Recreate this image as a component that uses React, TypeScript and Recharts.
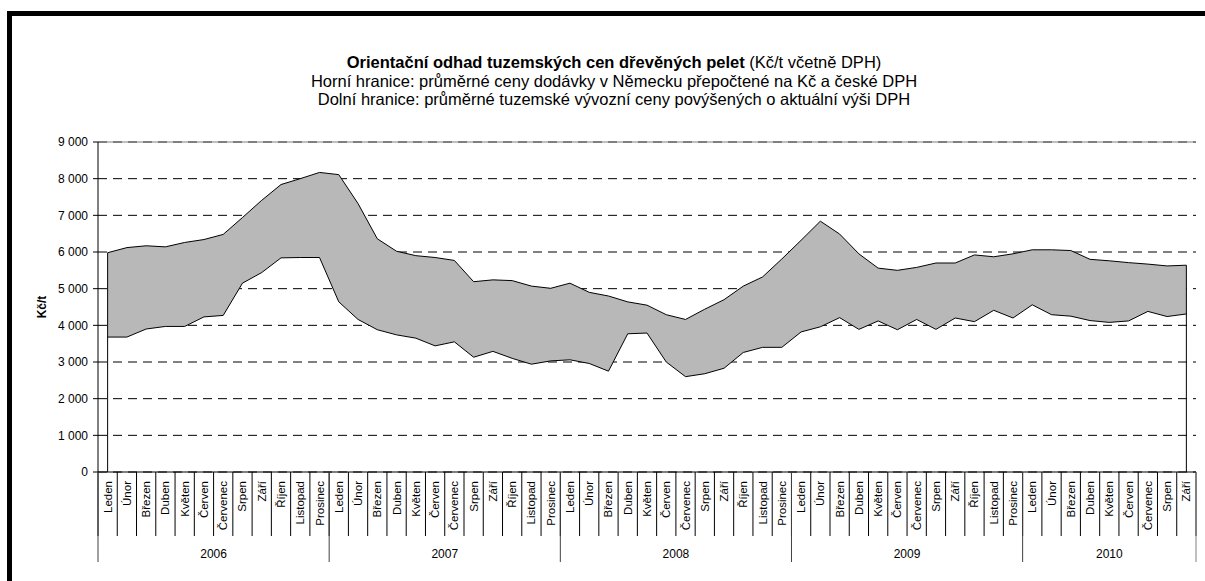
import React from "react";
import {
  ComposedChart,
  Area,
  XAxis,
  YAxis,
  CartesianGrid,
  ReferenceLine,
} from "recharts";

// Pellet price band (Kč/t incl. VAT), Jan 2006 – Sep 2010
const monthNames = [
  "Leden", "Únor", "Březen", "Duben", "Květen", "Červen",
  "Červenec", "Srpen", "Září", "Říjen", "Listopad", "Prosinec",
];
const years = ["2006", "2007", "2008", "2009", "2010"];
const monthsPerYear = [12, 12, 12, 12, 9];

// upper bound: German delivery prices converted to CZK + Czech VAT
const upper = [
  5980, 6120, 6170, 6140, 6260, 6340, 6480, 6940, 7410, 7840, 8000, 8170,
  8110, 7320, 6360, 6020, 5900, 5850, 5770, 5190, 5240, 5220, 5070, 5010,
  5150, 4900, 4800, 4640, 4550, 4290, 4160, 4440, 4700, 5070, 5320, 5810,
  6320, 6840, 6490, 5950, 5560, 5500, 5580, 5700, 5700, 5920, 5870, 5950,
  6060, 6060, 6040, 5800, 5760, 5710, 5670, 5620, 5640,
];
// lower bound: domestic export prices + VAT
const lower = [
  3680, 3680, 3900, 3970, 3970, 4230, 4270, 5150, 5440, 5840, 5850, 5850,
  4640, 4160, 3880, 3740, 3650, 3440, 3550, 3130, 3290, 3100, 2940, 3030,
  3060, 2960, 2750, 3770, 3790, 3000, 2600, 2680, 2830, 3260, 3400, 3400,
  3820, 3960, 4210, 3890, 4120, 3880, 4160, 3890, 4200, 4100, 4410, 4200,
  4560, 4290, 4250, 4130, 4080, 4120, 4380, 4240, 4310,
];
const yTicks = [0, 1000, 2000, 3000, 4000, 5000, 6000, 7000, 8000, 9000];

// build rows: one per month
const rows: { key: string; month: string; year: string; upper: number; lower: number }[] = [];
const groupStart: Record<number, number> = {}; // first index -> group length
years.forEach((yr, gi) => {
  groupStart[rows.length] = monthsPerYear[gi];
  for (let m = 0; m < monthsPerYear[gi]; m++) {
    const i = rows.length;
    rows.push({ key: `${yr}-${m}`, month: monthNames[m], year: yr, upper: upper[i], lower: lower[i] });
  }
});

const W = 1205;
const H = 581;
const MARGIN = { top: 142, right: 9, bottom: 19, left: 0 };
const Y_W = 98;
const MONTH_H = 64;
const YEAR_H = 26;
const BAND = (W - MARGIN.left - MARGIN.right - Y_W) / rows.length;
const FONT = '"Liberation Sans", Arial, sans-serif';

const fmt = (v: number) =>
  v >= 1000 ? `${Math.floor(v / 1000)} ${String(v % 1000).padStart(3, "0")}` : String(v);

function MonthTick(props: any) {
  const { x, y, payload } = props;
  const i = props.index ?? payload.index;
  const half = BAND / 2;
  const ty = y + 9;
  return (
    <g>
      <line x1={x - half} y1={y} x2={x - half} y2={y + MONTH_H} stroke="#000" />
      {i === rows.length - 1 && (
        <line x1={x + half} y1={y} x2={x + half} y2={y + MONTH_H} stroke="#000" />
      )}
      <text
        x={x}
        y={ty}
        dy="0.35em"
        textAnchor="end"
        transform={`rotate(-90 ${x} ${ty})`}
        fontSize={11.5}
        fontFamily={FONT}
        fill="#000"
      >
        {rows[i]?.month}
      </text>
    </g>
  );
}

function YearTick(props: any) {
  const { x, y, payload } = props;
  const i = props.index ?? payload.index;
  const half = BAND / 2;
  const n = groupStart[i];
  const isLast = i === rows.length - 1;
  return (
    <g>
      {n !== undefined && (
        <>
          <line x1={x - half} y1={y - MONTH_H} x2={x - half} y2={y + YEAR_H} stroke="#404040" />
          <text
            x={x - half + n * half}
            y={y + 22}
            textAnchor="middle"
            fontSize={12}
            fontFamily={FONT}
            fill="#000"
          >
            {rows[i].year}
          </text>
        </>
      )}
      {isLast && (
        <line x1={x + half} y1={y - MONTH_H} x2={x + half} y2={y + YEAR_H} stroke="#808080" />
      )}
    </g>
  );
}

export default function App() {
  const first = rows[0];
  const last = rows[rows.length - 1];
  return (
    <div style={{ position: "fixed", left: 0, top: 0, width: W, height: H, overflow: "hidden", background: "#fff" }}>
      <div
        style={{
          position: "absolute",
          left: 7,
          top: 11,
          width: 1400,
          height: 800,
          border: "5px solid #000",
        }}
      />
      <div
        style={{
          position: "absolute",
          left: 14,
          width: 1200,
          top: 53,
          textAlign: "center",
          fontFamily: FONT,
          fontSize: 16.5,
          lineHeight: "18.5px",
          color: "#000",
        }}
      >
        <div>
          <b>Orientační odhad tuzemských cen dřevěných pelet</b> (Kč/t včetně DPH)
        </div>
        <div>Horní hranice: průměrné ceny dodávky v Německu přepočtené na Kč a české DPH</div>
        <div>Dolní hranice: průměrné tuzemské vývozní ceny povýšených o aktuální výši DPH</div>
      </div>
      <div style={{ position: "absolute", left: 0, top: 0 }}>
        <ComposedChart width={W} height={H} data={rows} margin={MARGIN}>
          <CartesianGrid vertical={false} stroke="#000" strokeDasharray="9 6" />
          <XAxis
            dataKey="key"
            scale="band"
            interval={0}
            height={MONTH_H}
            tickSize={0}
            tickMargin={0}
            tickLine={false}
            axisLine={{ stroke: "#000" }}
            tick={<MonthTick />}
          />
          <XAxis
            xAxisId="year"
            dataKey="key"
            scale="band"
            interval={0}
            height={YEAR_H}
            tickSize={0}
            tickMargin={0}
            tickLine={false}
            axisLine={false}
            tick={<YearTick />}
          />
          <YAxis
            width={Y_W}
            domain={[0, 9000]}
            ticks={yTicks}
            interval={0}
            tickFormatter={fmt}
            tickSize={5}
            tickMargin={5}
            tick={{ fontSize: 12, fill: "#000", fontFamily: FONT }}
            axisLine={{ stroke: "#000" }}
            tickLine={{ stroke: "#000" }}
            label={{
              content: ({ viewBox }: any) => (
                <text
                  x={viewBox.x + 42}
                  y={viewBox.y + viewBox.height / 2}
                  transform={`rotate(-90 ${viewBox.x + 42} ${viewBox.y + viewBox.height / 2})`}
                  textAnchor="middle"
                  dy="0.35em"
                  fontSize={12}
                  fontWeight="bold"
                  fontFamily={FONT}
                  fill="#000"
                >
                  Kč/t
                </text>
              ),
            }}
          />
          <YAxis
            yAxisId="right"
            orientation="right"
            width={0}
            domain={[0, 9000]}
            tick={false}
            tickLine={false}
            axisLine={{ stroke: "#808080" }}
          />
          <ReferenceLine y={9000} stroke="#808080" />
          <Area
            type="linear"
            dataKey={(d: any) => [d.lower, d.upper]}
            fill="#b8b8b8"
            fillOpacity={1}
            stroke="#000"
            strokeWidth={1}
            dot={false}
            activeDot={false}
            isAnimationActive={false}
          />
          <ReferenceLine
            segment={[
              { x: first.key, y: 0 },
              { x: first.key, y: first.upper },
            ]}
            stroke="#000"
          />
          <ReferenceLine
            segment={[
              { x: last.key, y: 0 },
              { x: last.key, y: last.upper },
            ]}
            stroke="#000"
          />
        </ComposedChart>
      </div>
    </div>
  );
}
